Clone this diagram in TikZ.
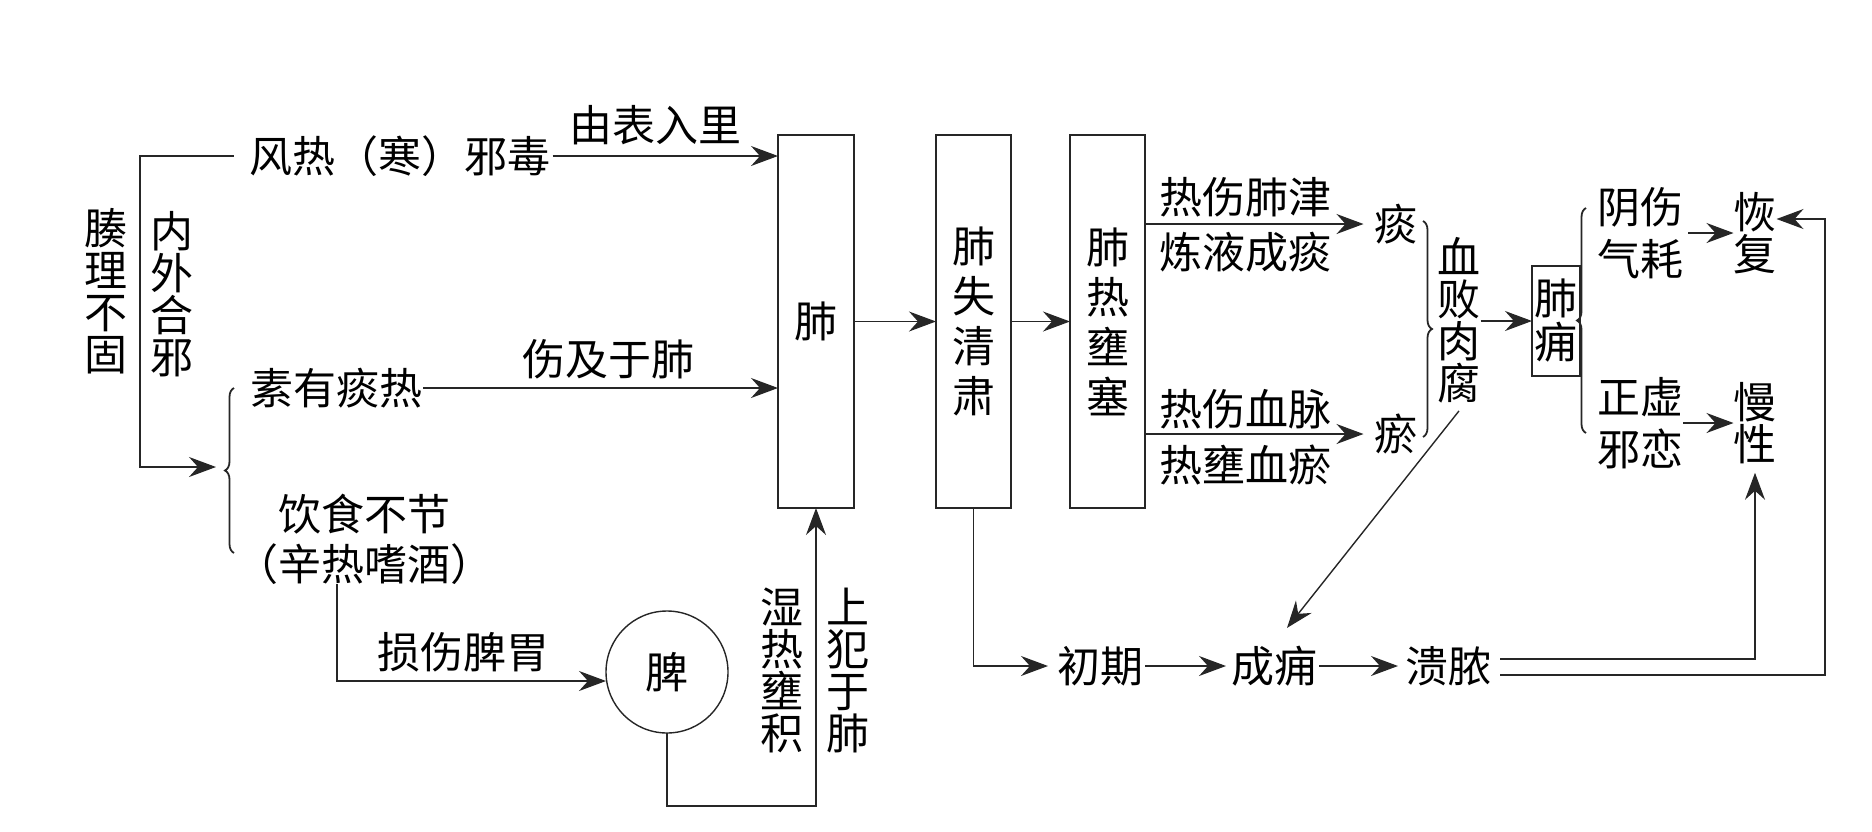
\documentclass[tikz,border=0pt]{standalone}
\usepackage{fontspec}
\setmainfont{Noto Sans CJK SC}
\usetikzlibrary{arrows.meta,decorations.pathreplacing}
\begin{document}
\begin{tikzpicture}[x=1pt,y=-1pt,
  every node/.style={inner sep=0pt, outer sep=0pt},
  lbl/.style={font=\fontsize{43}{43}\selectfont},
  vt/.style={font=\fontsize{43}{42}\selectfont, align=center},
  vtb/.style={font=\fontsize{43}{50}\selectfont, align=center},
  vtc/.style={font=\fontsize{43}{52}\selectfont, align=center},
  ln/.style={line width=1.4pt, draw=black!85},
  box/.style={ln, minimum width=76pt, minimum height=373pt},
  arr/.style={ln, -{Stealth[length=27pt,width=20pt,inset=9pt]}},
  br/.style={ln, line width=1.8pt, decorate, decoration={brace, amplitude=9pt}}
]
\useasboundingbox (0,0) rectangle (1872,831);

% left part
\node[lbl] (fengre) at (400,156) {风热（寒）邪毒};
\node[lbl] (biaoli) at (655,125) {由表入里};
\node[vt] (couli) at (106,291) {腠\\理\\不\\固};
\node[vt] (neiwai) at (172,294) {内\\外\\合\\邪};
\node[lbl] (suyou) at (336,388) {素有痰热};
\node[lbl] (shangji) at (608,359) {伤及于肺};
\node[lbl] (yinshi) at (364,514) {饮食不节};
\node[lbl] (xinre) at (364,564) {（辛热嗜酒）};
\node[lbl] (sunshang) at (463,652) {损伤脾胃};
\node[ln, circle, minimum size=122pt, lbl] (pi) at (667,672) {脾};
\node[vt] (shire) at (782,670) {湿\\热\\壅\\积};
\node[vt] (shangfan) at (848,670) {上\\犯\\于\\肺};

% boxes
\node[box, lbl] (fei) at (816,321.5) {肺};
\node[box, vtb, minimum width=75pt] (shiqing) at (973.5,321.5) {肺\\失\\清\\肃};
\node[box, vtb, minimum width=75pt] (yongsai) at (1107.5,321.5) {肺\\热\\壅\\塞};

% middle
\node[lbl] (tan) at (1396,224) {痰};
\node[lbl] (yu) at (1396,434) {瘀};
\node[lbl] (l1) at (1245,197) {热伤肺津};
\node[lbl] (l2) at (1245,252) {炼液成痰};
\node[lbl] (l3) at (1245,409) {热伤血脉};
\node[lbl] (l4) at (1245,465) {热壅血瘀};
\node[vt] (xuebai) at (1459,320) {血\\败\\肉\\腐};
\node[ln, font=\fontsize{43}{44}\selectfont, align=center, minimum width=48pt, minimum height=110pt] (feiyong) at (1556,321) {肺\\痈};

% right
\node[vtc] (yinshang) at (1640,233) {阴伤\\气耗};
\node[vtc] (zhengxu) at (1640,423) {正虚\\邪恋};
\node[vt] (huifu) at (1755,233) {恢\\复};
\node[vt] (manxing) at (1755,423) {慢\\性};

% bottom
\node[lbl] (chuqi) at (1100,666) {初期};
\node[lbl] (chengyong) at (1274,666) {成痈};
\node[lbl] (kuinong) at (1448,666) {溃脓};

% coordinates
\coordinate (lt) at (140,156);
\coordinate (lb) at (140,467);
\coordinate (brtip) at (216,467);
\coordinate (pb) at (667,806);
\coordinate (rt) at (1825,219);

% connectors left
\draw[arr] ([xshift=2pt]fengre.east) -- (fengre.east -| fei.west);
\draw[arr] ([xshift=-16pt]fengre.west) -- (lt) -- (lb) -- (brtip);
\draw[br] (234,553) -- (234,388);
\draw[arr] ([xshift=1pt]suyou.east) -- (suyou.east -| fei.west);
\draw[arr] ([xshift=-27pt]xinre.south) |- ([yshift=-9pt]pi.west);
\draw[arr] (pi.south) -- (pb) -| (fei.south);

% boxes chain
\draw[arr] (fei.east) -- (shiqing.west);
\draw[arr] (shiqing.east) -- (yongsai.west);
\draw[arr] (yongsai.east |- tan) -- ([xshift=-11pt]tan.west);
\draw[arr] (yongsai.east |- yu) -- ([xshift=-11pt]yu.west);
\draw[br] (1423,221) -- (1423,437);
\draw[arr] (xuebai.east |- feiyong) -- (feiyong.west);
\draw[br] (1586,433) -- (1586,208);
\draw[arr] ([xshift=5pt]yinshang.east |- huifu) -- (huifu.west);
\draw[arr] (zhengxu.east |- manxing) -- (manxing.west);

% bottom chain
\draw[arr] (shiqing.south) |- ([xshift=-9pt]chuqi.west);
\draw[arr] ([xshift=2pt]chuqi.east) -- ([xshift=-5pt]chengyong.west);
\draw[arr] ([xshift=2pt]chengyong.east) -- ([xshift=-7pt]kuinong.west);
\draw[arr] ([xshift=9pt,yshift=7pt]kuinong.east) -| ([yshift=-9pt]manxing.south);
\draw[arr] ([xshift=9pt,yshift=-9pt]kuinong.east) -| (rt) -- (rt -| huifu.east);
\draw[arr] ([yshift=-8pt]xuebai.south) -- ([xshift=13pt,yshift=18pt]chengyong.north);
\end{tikzpicture}
\end{document}
